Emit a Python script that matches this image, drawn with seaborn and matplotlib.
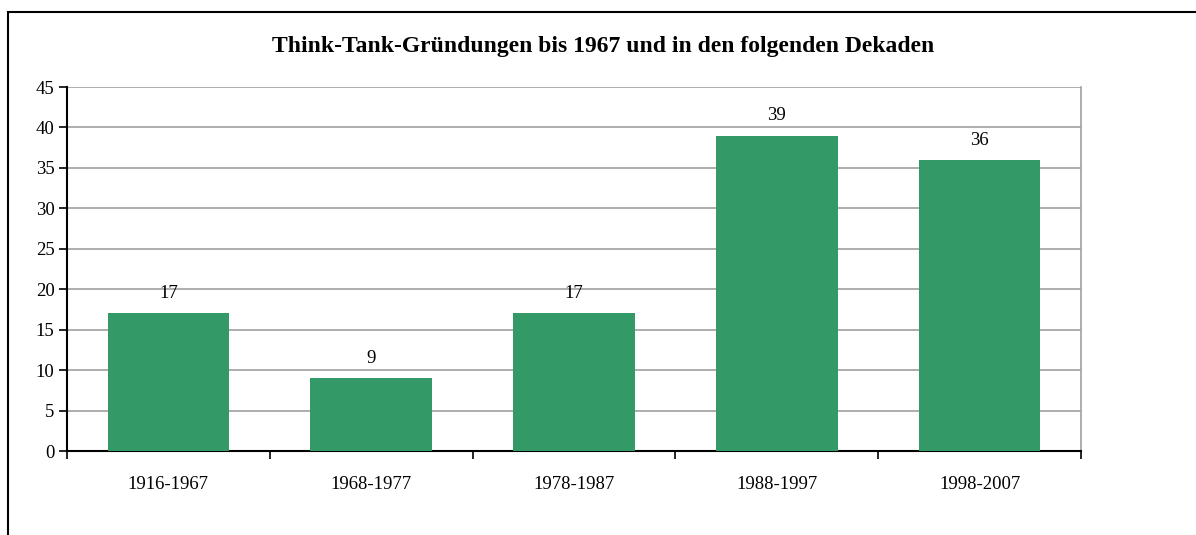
import matplotlib
matplotlib.use("Agg")
import matplotlib.pyplot as plt
import seaborn as sns
import pandas as pd
from matplotlib.patches import Rectangle

# Daten
perioden = ["1916-1967", "1968-1977", "1978-1987", "1988-1997", "1998-2007"]
gruendungen = [17, 9, 17, 39, 36]
titel = "Think-Tank-Gründungen bis 1967 und in den folgenden Dekaden"

df = pd.DataFrame({"periode": perioden, "anzahl": gruendungen})

sns.set_style("white")
plt.rcParams["font.family"] = ["Liberation Serif", "DejaVu Serif"]
plt.rcParams["text.color"] = "black"
plt.rcParams["xtick.color"] = "black"
plt.rcParams["ytick.color"] = "black"

W, H = 1196, 535
fig = plt.figure(figsize=(W / 100, H / 100), dpi=100)
ax = fig.add_axes([67 / W, 1 - 451 / H, (1081 - 67) / W, (451 - 87) / H])

sns.barplot(data=df, x="periode", y="anzahl", color="#339966", saturation=1,
            width=0.6, linewidth=0, ax=ax, zorder=3)

ax.set_ylim(0, 45)
ax.set_yticks(range(0, 46, 5))
ax.set_xlim(-0.5, len(perioden) - 0.5)
ax.yaxis.grid(True, color="#a0a0a0", linewidth=1.2, zorder=0)
ax.set_axisbelow(True)

# Wertebeschriftung über den Balken
for i, v in enumerate(gruendungen):
    ax.annotate(str(v), (i, v), xytext=(0, 8), textcoords="offset points",
                ha="center", va="bottom", fontsize=13.5, color="black")

# x-Ticks an den Kategoriegrenzen, Beschriftung in der Mitte
ax.set_xticks([i - 0.5 for i in range(len(perioden) + 1)])
ax.set_xticklabels([])
ax.set_xticks(range(len(perioden)), minor=True)
ax.set_xticklabels(perioden, minor=True, fontsize=13.5)
ax.tick_params(axis="x", which="major", direction="out", length=6, width=1.2,
               color="black", bottom=True)
ax.tick_params(axis="x", which="minor", length=0, pad=18)
ax.tick_params(axis="y", direction="out", length=6, width=1.2, color="black",
               labelsize=13.5, left=True, pad=3)
ax.set_xlabel("")
ax.set_ylabel("")

for s in ["left", "bottom"]:
    ax.spines[s].set_color("black")
    ax.spines[s].set_linewidth(1.5)
ax.spines["top"].set_visible(False)
ax.spines["right"].set_color("#a0a0a0")
ax.spines["right"].set_linewidth(1.2)

fig.text(603 / W, 1 - 47 / H, titel, ha="center", va="center",
         fontsize=17, fontweight="bold", color="black")

# Rahmen um das Diagramm
fig.patches.append(Rectangle((8 / W, -0.1), 2, 1 - 12 / H + 0.1,
                             transform=fig.transFigure, fill=False,
                             edgecolor="black", linewidth=1.5))

fig.savefig("out.png", dpi=100)
